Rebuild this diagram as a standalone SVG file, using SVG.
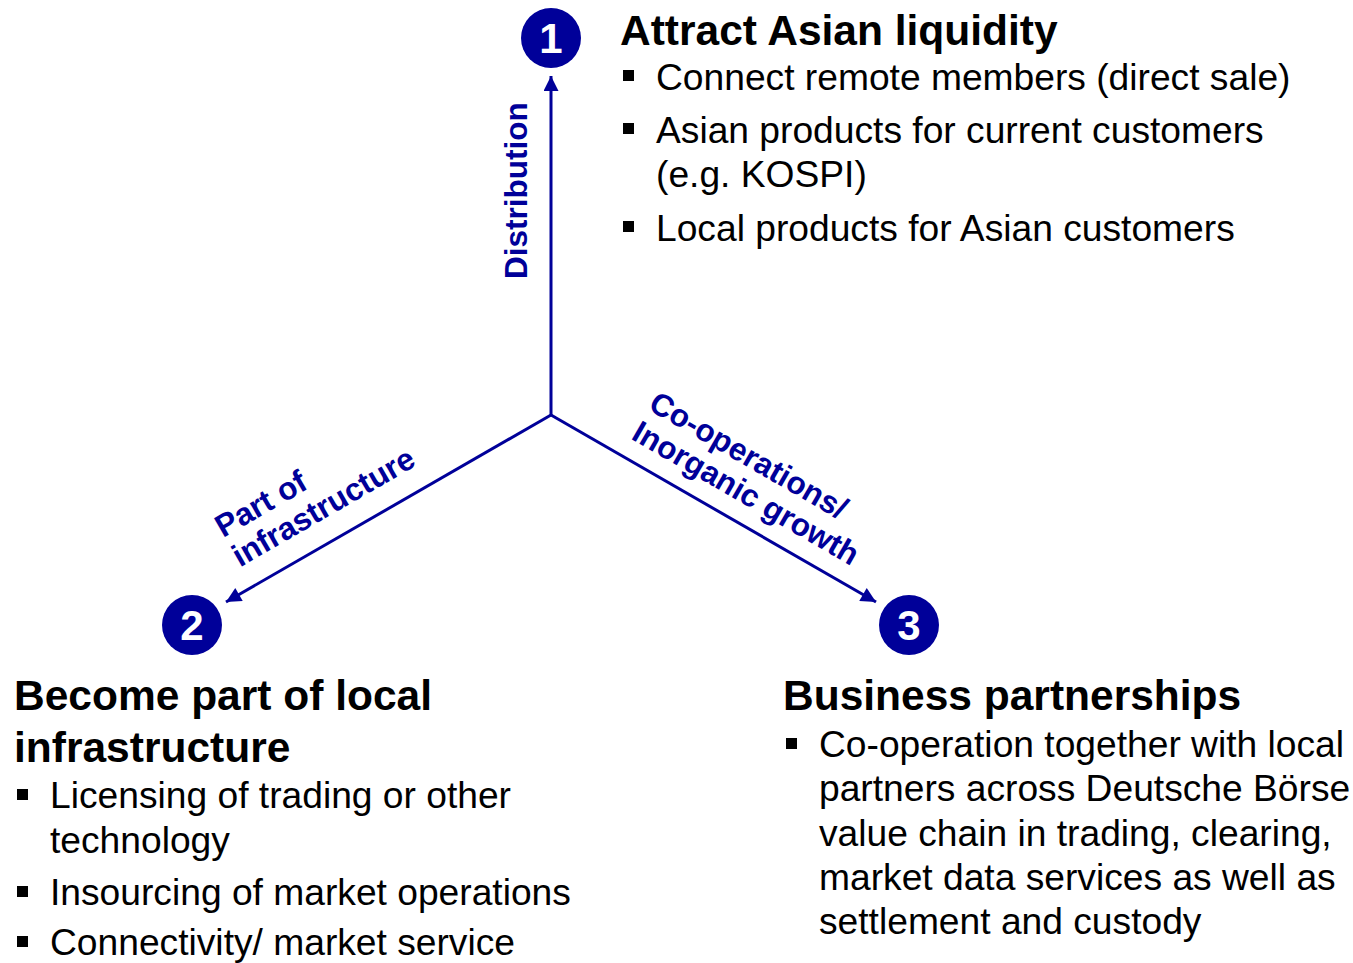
<svg xmlns="http://www.w3.org/2000/svg" width="1353" height="963" viewBox="0 0 1353 963">
<defs>
<marker id="ah" viewBox="0 0 10 10" refX="10" refY="5" markerWidth="5.5" markerHeight="5" markerUnits="strokeWidth" orient="auto">
<path d="M0,0 L10,5 L0,10 z" fill="#000099"/>
</marker>
<style>
.t{font-family:"Liberation Sans",Arial,sans-serif;fill:#000;}
.h{font-size:42.5px;font-weight:bold;}
.b{font-size:37.2px;}
.lab{font-family:"Liberation Sans",Arial,sans-serif;font-size:31.5px;font-weight:bold;fill:#000099;}
.num{font-family:"Liberation Sans",Arial,sans-serif;font-size:42px;font-weight:bold;fill:#fff;text-anchor:middle;}
.circ{fill:#000099;}
.conn{stroke:#000099;stroke-width:3;fill:none;marker-end:url(#ah);}
.sq{fill:#000;}
</style>
</defs>
<rect width="1353" height="963" fill="#fff"/>
<g id="connectors">
<line class="conn" x1="551" y1="415" x2="551" y2="76"/>
<line class="conn" x1="551" y1="415" x2="226" y2="602"/>
<line class="conn" x1="551" y1="415" x2="876" y2="602"/>
<text class="lab" transform="translate(527,279) rotate(-90)">Distribution</text>
<g transform="translate(223,538) rotate(-30)">
<text class="lab" x="0" y="0">Part of</text>
<text class="lab" x="0" y="34">infrastructure</text>
</g>
<g transform="translate(647,409) rotate(30)">
<text class="lab" x="0" y="0">Co-operations/</text>
<text class="lab" x="0" y="34">Inorganic growth</text>
</g>
</g>
<g id="node1">
<circle class="circ" cx="551" cy="38" r="30"/>
<text class="num" x="551" y="53">1</text>
<text class="t h" x="620" y="45">Attract Asian liquidity</text>
<rect class="sq" x="623" y="70" width="11" height="11"/>
<text class="t b" x="656" y="90">Connect remote members (direct sale)</text>
<rect class="sq" x="623" y="123" width="11" height="11"/>
<text class="t b" x="656" y="143">Asian products for current customers</text>
<text class="t b" x="656" y="187">(e.g. KOSPI)</text>
<rect class="sq" x="623" y="221" width="11" height="11"/>
<text class="t b" x="656" y="241">Local products for Asian customers</text>
</g>
<g id="node2">
<circle class="circ" cx="192" cy="625" r="30"/>
<text class="num" x="192" y="640">2</text>
<text class="t h" x="14" y="710">Become part of local</text>
<text class="t h" x="14" y="762">infrastructure</text>
<rect class="sq" x="17" y="789" width="11" height="11"/>
<text class="t b" x="50" y="808">Licensing of trading or other</text>
<text class="t b" x="50" y="853">technology</text>
<rect class="sq" x="17" y="886" width="11" height="11"/>
<text class="t b" x="50" y="905">Insourcing of market operations</text>
<rect class="sq" x="17" y="936" width="11" height="11"/>
<text class="t b" x="50" y="955">Connectivity/ market service</text>
</g>
<g id="node3">
<circle class="circ" cx="909" cy="625" r="30"/>
<text class="num" x="909" y="640">3</text>
<text class="t h" x="783" y="710">Business partnerships</text>
<rect class="sq" x="786" y="738" width="11" height="11"/>
<text class="t b" x="819" y="757">Co-operation together with local</text>
<text class="t b" x="819" y="801">partners across Deutsche Börse</text>
<text class="t b" x="819" y="846">value chain in trading, clearing,</text>
<text class="t b" x="819" y="890">market data services as well as</text>
<text class="t b" x="819" y="934">settlement and custody</text>
</g>
</svg>
